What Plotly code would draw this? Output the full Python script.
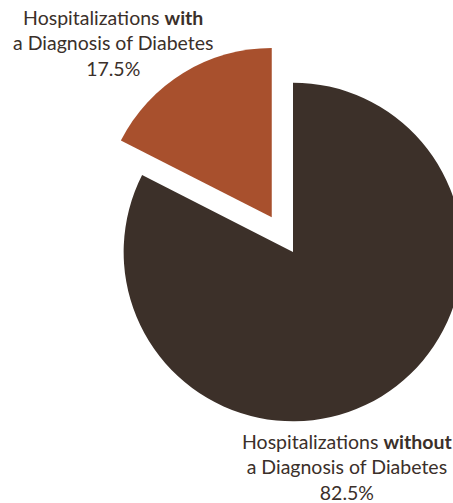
import plotly.graph_objects as go

# ---- data ----
labels = ["Hospitalizations without a Diagnosis of Diabetes",
          "Hospitalizations with a Diagnosis of Diabetes"]
values = [82.5, 17.5]
label_texts = ["Hospitalizations <b>without</b><br>a Diagnosis of Diabetes<br>82.5%",
               "Hospitalizations <b>with</b><br>a Diagnosis of Diabetes<br>17.5%"]
colors = ["#3c3029", "#a8502d"]
pulls = [0, 0.24]

# ---- layout geometry (pixels) ----
W, H = 503, 503
VIEW_W = 453
ML, MT, SIZE = 83, 42, 420
MR = W - ML - SIZE
MB = H - MT - SIZE

def px_x(p):
    return (p - ML) / SIZE

def px_y(p):
    return (MT + SIZE - p) / SIZE

fig = go.Figure(go.Pie(
    labels=labels, values=values, sort=False, direction="clockwise",
    rotation=0, pull=pulls, marker=dict(colors=colors, line=dict(width=0)),
    textinfo="none", hoverinfo="none", showlegend=False,
))

txt_font = dict(family="Lato", size=19.5, color="#3b302a")
ann_pos = [(347, 467), (113, 43)]
for t, (ax, ay) in zip(label_texts, ann_pos):
    fig.add_annotation(text=t, x=px_x(ax), y=px_y(ay), xref="paper", yref="paper",
                       xanchor="center", yanchor="middle", showarrow=False,
                       align="center", font=txt_font)

fig.update_layout(width=W, height=H, margin=dict(l=ML, r=MR, t=MT, b=MB),
                  paper_bgcolor="white", plot_bgcolor="white")

clip_js = (
    "var gd=document.getElementById('{plot_id}');"
    "gd.style.width='%dpx';gd.style.height='%dpx';gd.style.overflow='hidden';"
    "var p=gd.parentElement;"
    "p.style.width='%dpx';p.style.height='%dpx';p.style.overflow='hidden';"
    "document.documentElement.style.overflow='hidden';"
    "document.body.style.margin='0';"
) % (VIEW_W, H, VIEW_W, H)

fig.write_html("out.html", post_script=clip_js)
